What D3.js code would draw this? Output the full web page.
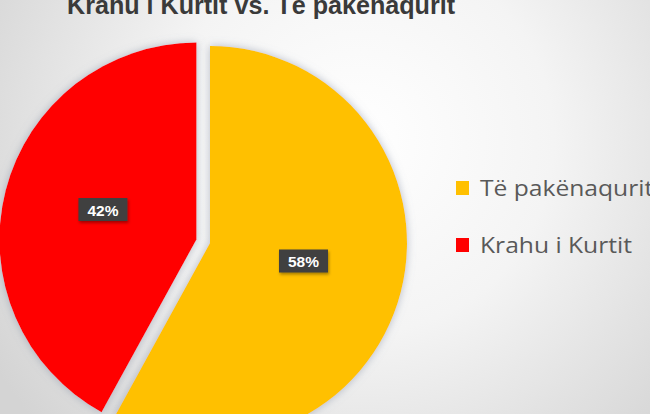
<!DOCTYPE html>
<html><head><meta charset="utf-8">
<script src="https://cdn.jsdelivr.net/npm/d3@7"></script>
<style>html,body{margin:0;padding:0;overflow:hidden;background:#fff}</style>
</head><body><svg id="c" width="650" height="414"></svg>
<script>
const categories = ["Të pakënaqurit", "Krahu i Kurtit"];
const values = [58, 42];
const labels = ["58%", "42%"];
const colors = ["#FFC000", "#FF0000"];
const title = "Krahu i Kurtit vs. Të pakënaqurit";
const explode = [0, 14];

const svg = d3.select("#c");
const defs = svg.append("defs");
const rg = defs.append("radialGradient").attr("id","bg").attr("gradientUnits","userSpaceOnUse")
  .attr("cx",360).attr("cy",140).attr("r",430);
rg.append("stop").attr("offset","0").attr("stop-color","#ffffff");
rg.append("stop").attr("offset","0.45").attr("stop-color","#f4f4f4");
rg.append("stop").attr("offset","1").attr("stop-color","#d4d4d4");
svg.append("rect").attr("width",650).attr("height",414).attr("fill","url(#bg)");

const f = defs.append("filter").attr("id","sh").attr("x","-20%").attr("y","-20%").attr("width","140%").attr("height","140%");
f.append("feDropShadow").attr("dx",0).attr("dy",0).attr("stdDeviation",4).attr("flood-color","#7f8aa0").attr("flood-opacity",0.55);
const f2 = defs.append("filter").attr("id","sh2").attr("x","-30%").attr("y","-30%").attr("width","160%").attr("height","160%");
f2.append("feDropShadow").attr("dx",1).attr("dy",2).attr("stdDeviation",1.5).attr("flood-color","#000").attr("flood-opacity",0.35);

svg.append("text").attr("x",261).attr("y",14).attr("text-anchor","middle")
  .attr("font-family","Liberation Sans, Arial, sans-serif").attr("font-weight","bold")
  .attr("font-size",25).attr("fill","#3a3a3a")
  .attr("textLength",388).attr("lengthAdjust","spacingAndGlyphs").text(title);

const cx = 210, cy = 243, r = 197;
const pie = d3.pie().sort(null).value(d=>d)(values);
const arc = d3.arc().innerRadius(0).outerRadius(r);
const g = svg.append("g").attr("transform",`translate(${cx},${cy})`);
pie.forEach((p,i)=>{
  const mid = (p.startAngle+p.endAngle)/2;
  const dx = Math.sin(mid)*explode[i], dy = -Math.cos(mid)*explode[i];
  const sg = g.append("g").attr("transform",`translate(${dx},${dy})`);
  sg.append("path").attr("d",arc(p)).attr("fill",colors[i]).attr("filter","url(#sh)");
});
const labelLift = 6;
pie.forEach((p,i)=>{
  const mid = (p.startAngle+p.endAngle)/2;
  const dist = r*0.49 + explode[i];
  const x = Math.sin(mid)*dist, y = -Math.cos(mid)*dist - labelLift;
  const lg = g.append("g").attr("transform",`translate(${x},${y})`);
  lg.append("rect").attr("x",-24.5).attr("y",-11.5).attr("width",49).attr("height",23)
    .attr("fill","#404040").attr("filter","url(#sh2)");
  lg.append("text").attr("text-anchor","middle").attr("y",6).attr("fill","#fff")
    .attr("font-family","Liberation Sans, Arial, sans-serif").attr("font-weight","bold")
    .attr("font-size",15.5).text(labels[i]);
});

const legY = d3.scalePoint().domain(categories).range([188,245]);
const legTexts = [];
categories.forEach((c,i)=>{
  svg.append("rect").attr("x",456).attr("y",legY(c)-7).attr("width",13).attr("height",14).attr("fill",colors[i]);
  legTexts.push(svg.append("text").attr("x",480).attr("y",legY(c)+8).attr("font-family","Open Sans, sans-serif")
    .attr("font-size",22).attr("fill","#595959").text(c));
});
const ref = legTexts[1].node().getComputedTextLength();
const k = 152 / ref;
legTexts.forEach(t=>{
  const w = t.node().getComputedTextLength();
  t.attr("textLength", w*k).attr("lengthAdjust","spacingAndGlyphs");
});
</script></body></html>
